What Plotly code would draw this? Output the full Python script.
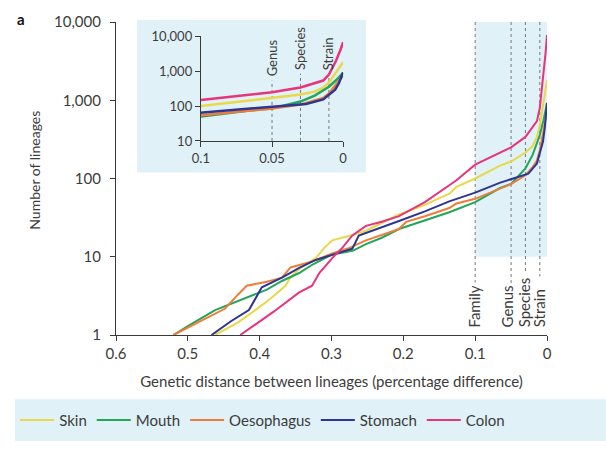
import numpy as np
import plotly.graph_objects as go

# ---------------- data ----------------
series_names = ["Skin", "Mouth", "Oesophagus", "Stomach", "Colon"]
series_colors = ["#e8d84a", "#23a55a", "#ee7d3b", "#2e3592", "#e8337d"]

skin_x = [0.462, 0.43, 0.406, 0.385, 0.364, 0.358, 0.345, 0.322, 0.31, 0.299, 0.275, 0.252, 0.23, 0.206,
          0.17, 0.136, 0.126, 0.1, 0.066, 0.05, 0.03, 0.02, 0.014, 0.01, 0.006, 0.003, 0.0]
skin_y = [1, 1.45, 2.08, 2.9, 4.26, 5.3, 7.0, 9.6, 13, 16.2, 18.5, 21.5, 27, 34.7,
          46, 64, 78, 100, 145, 165, 215, 260, 340, 480, 800, 1200, 1800]

mouth_x = [0.52, 0.5, 0.462, 0.44, 0.415, 0.39, 0.369, 0.345, 0.327, 0.299, 0.28, 0.27, 0.252, 0.23,
           0.206, 0.17, 0.136, 0.1, 0.066, 0.05, 0.03, 0.02, 0.01, 0.005, 0.0]
mouth_y = [1, 1.3, 2.08, 2.5, 3.05, 3.8, 4.9, 6.2, 7.9, 10.7, 11.5, 12.0, 14.5, 17.5,
           22.6, 29, 37, 50, 75, 85, 135, 200, 360, 550, 900]

oeso_x = [0.52, 0.5, 0.448, 0.43, 0.418, 0.39, 0.369, 0.357, 0.34, 0.327, 0.299, 0.275, 0.252, 0.23,
          0.206, 0.196, 0.17, 0.136, 0.126, 0.1, 0.066, 0.05, 0.03, 0.02, 0.014, 0.01, 0.005, 0.0]
oeso_y = [1, 1.25, 2.18, 3.3, 4.26, 4.8, 5.4, 7.3, 8.0, 8.7, 11, 13, 16.2, 19,
          22.6, 28, 33, 42, 48, 55, 75, 85, 110, 140, 170, 230, 400, 750]

stomach_x = [0.467, 0.44, 0.415, 0.397, 0.369, 0.345, 0.322, 0.3, 0.271, 0.262, 0.24, 0.206, 0.17,
             0.136, 0.1, 0.066, 0.047, 0.026, 0.014, 0.0056, 0.003, 0.0]
stomach_y = [1, 1.5, 2.08, 4.06, 5.4, 7.2, 9.1, 10.5, 12.7, 18.7, 22, 28.6, 38,
             51, 66, 88, 100, 115, 155, 296, 450, 930]

colon_x = [0.427, 0.38, 0.345, 0.327, 0.317, 0.299, 0.285, 0.271, 0.252, 0.23, 0.206, 0.17, 0.136,
           0.126, 0.1, 0.066, 0.05, 0.03, 0.014, 0.01, 0.005, 0.002, 0.0]
colon_y = [1, 2.0, 3.5, 4.26, 6.2, 9.6, 13, 18.7, 24.8, 28, 33, 50, 82,
           95, 150, 210, 250, 340, 540, 800, 2000, 4000, 6800]

series_x = [skin_x, mouth_x, oeso_x, stomach_x, colon_x]
series_y = [skin_y, mouth_y, oeso_y, stomach_y, colon_y]

x_ticks = [0.6, 0.5, 0.4, 0.3, 0.2, 0.1, 0.0]
x_tick_labels = ["0.6", "0.5", "0.4", "0.3", "0.2", "0.1", "0"]
y_ticks = [1, 10, 100, 1000, 10000]
y_tick_labels = ["1", "10", "100", "1,000", "10,000"]

inset_x_ticks = [0.1, 0.05, 0.0]
inset_x_labels = ["0.1", "0.05", "0"]
inset_y_ticks = [10, 100, 1000, 10000]
inset_y_labels = ["10", "100", "1,000", "10,000"]

# taxonomic thresholds
main_levels = ["Family", "Genus", "Species", "Strain"]
main_level_x = [0.1, 0.05, 0.03, 0.01]
main_line_bottom = [4.7, 4.4, 6.2, 5.6]
main_label_shift = [-1, -4, -2, 0]

inset_levels = ["Genus", "Species", "Strain"]
inset_level_x = [0.05, 0.03, 0.01]
inset_line_top = [540, 850, 850]

FONT = "Lato"
TXT = "#3c3c3c"
AX = "#3a3a3a"
BLUE_BG = "#e0f1f7"

fig = go.Figure()

# main dotted threshold lines
for lx, lb in zip(main_level_x, main_line_bottom):
    fig.add_trace(go.Scatter(x=[lx, lx], y=[10000, lb], mode="lines",
                             line=dict(color="#777777", width=1, dash="dot"),
                             showlegend=False, hoverinfo="skip", xaxis="x", yaxis="y"))
# inset dotted lines
for lx, lt in zip(inset_level_x, inset_line_top):
    fig.add_trace(go.Scatter(x=[lx, lx], y=[10, lt], mode="lines",
                             line=dict(color="#777777", width=1, dash="dot"),
                             showlegend=False, hoverinfo="skip", xaxis="x2", yaxis="y2"))

# main series
for name, col, xs, ys in zip(series_names, series_colors, series_x, series_y):
    fig.add_trace(go.Scatter(x=xs, y=ys, mode="lines", name=name,
                             line=dict(color=col, width=2), xaxis="x", yaxis="y"))
# inset series
for name, col, xs, ys in zip(series_names, series_colors, series_x, series_y):
    fig.add_trace(go.Scatter(x=xs, y=ys, mode="lines", name=name, showlegend=False,
                             line=dict(color=col, width=2.5), xaxis="x2", yaxis="y2"))

shapes = [
    # main shaded region
    dict(type="rect", xref="x", yref="y", x0=0.1, x1=0.0, y0=10, y1=10000,
         fillcolor=BLUE_BG, line=dict(width=0), layer="below"),
    # inset background box
    dict(type="rect", xref="paper", yref="paper", x0=0.0487, x1=0.58, y0=0.519, y1=1.006,
         fillcolor=BLUE_BG, line=dict(width=0), layer="below"),
    # legend box
    dict(type="rect", xref="paper", yref="paper", x0=-0.2343, x1=1.14, y0=-0.3385, y1=-0.205,
         fillcolor=BLUE_BG, line=dict(width=0), layer="below"),
]

annotations = [
    dict(text="<b>a</b>", xref="paper", yref="paper", x=-0.235, y=1.01, showarrow=False,
         font=dict(family=FONT, size=15, color="#111"), xanchor="left", yanchor="middle"),
    dict(text="Number of lineages", xref="paper", yref="paper", x=-0.188, y=0.528,
         textangle=-90, showarrow=False, xanchor="center", yanchor="middle",
         font=dict(family=FONT, size=14, color=TXT)),
]
for lab, lx, sh in zip(main_levels, main_level_x, main_label_shift):
    annotations.append(dict(text=lab, xref="x", yref="paper", x=lx, y=0.018, xshift=sh,
                            textangle=-90, showarrow=False, xanchor="center", yanchor="bottom",
                            font=dict(family=FONT, size=15, color=TXT)))
for lab, lx, lt in zip(inset_levels, inset_level_x, inset_line_top):
    annotations.append(dict(text=lab, xref="x2", yref="y2", x=lx, y=np.log10(lt) + 0.05,
                            textangle=-90, showarrow=False, xanchor="center", yanchor="bottom",
                            font=dict(family=FONT, size=13, color=TXT)))

axis_common = dict(showline=True, linecolor=AX, linewidth=1.2, ticks="outside", ticklen=5,
                   tickcolor=AX, showgrid=False, zeroline=False, mirror=False)

fig.update_layout(
    width=606, height=449,
    margin=dict(l=116, r=59, t=17, b=110),
    paper_bgcolor="white", plot_bgcolor="rgba(0,0,0,0)",
    font=dict(family=FONT, color=TXT, size=15),
    xaxis=dict(range=[0.6, 0.0], tickvals=x_ticks, ticktext=x_tick_labels,
               domain=[0, 1], anchor="y",
               title=dict(text="Genetic distance between lineages (percentage difference)",
                          font=dict(size=15, color=TXT), standoff=15),
               tickfont=dict(size=15, color=TXT), **axis_common),
    yaxis=dict(type="log", range=[0, 4], tickvals=y_ticks, ticktext=y_tick_labels,
               domain=[0, 1], anchor="x",
               tickfont=dict(size=15, color=TXT), ticklabelstandoff=6, **axis_common),
    xaxis2=dict(range=[0.1, 0.0], tickvals=inset_x_ticks, ticktext=inset_x_labels,
                domain=[0.197, 0.527], anchor="y2",
                tickfont=dict(size=13, color=TXT), **axis_common),
    yaxis2=dict(type="log", range=[1, 4], tickvals=inset_y_ticks, ticktext=inset_y_labels,
                domain=[0.62, 0.954], anchor="x2",
                tickfont=dict(size=13, color=TXT), **axis_common),
    shapes=shapes,
    annotations=annotations,
    legend=dict(orientation="h", x=-0.234, xanchor="left", y=-0.272, yanchor="middle",
                bgcolor="rgba(0,0,0,0)", font=dict(size=15, color=TXT), itemwidth=34),
    showlegend=True,
)

fig.write_html("out.html")
